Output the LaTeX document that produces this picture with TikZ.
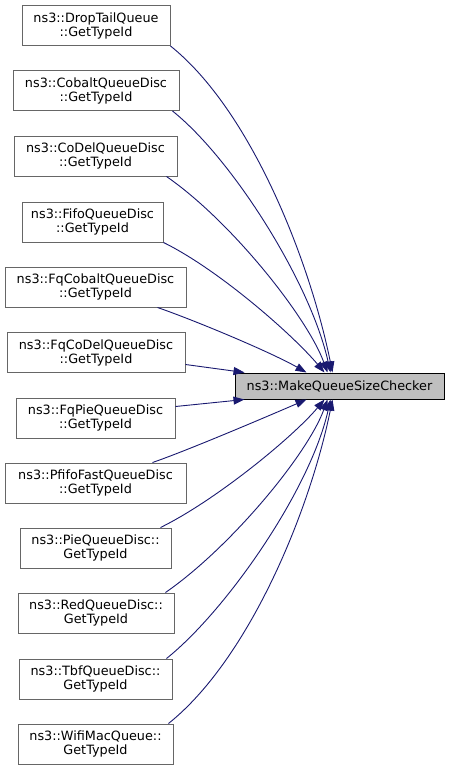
\documentclass[tikz,border=0pt]{standalone}
\usepackage{fontspec}
\setmainfont{DejaVu Sans}
\usetikzlibrary{arrows.meta,calc}
\definecolor{edgeblue}{HTML}{191970}
\definecolor{boxgrey}{HTML}{666666}
\definecolor{tgtfill}{HTML}{BFBFBF}
\tikzset{
  fnbox/.style={draw=boxgrey, line width=1pt, fill=white, minimum height=40pt, inner sep=0pt, align=center,
    font=\fontsize{12.8}{14}\selectfont},
  tgtbox/.style={draw=black, line width=1pt, fill=tgtfill, minimum height=26pt, minimum width=209pt, inner sep=0pt,
    font=\fontsize{12.8}{14}\selectfont},
  calledge/.style={draw=edgeblue, line width=0.9pt, -{Triangle[length=11pt,width=8pt]}, color=edgeblue},
}
\begin{document}
\begin{tikzpicture}[x=1pt,y=-1pt]
\useasboundingbox (0,0) rectangle (449,771);
\node[tgtbox] (tgt) at (339.5,386) {ns3::MakeQueueSizeChecker};
\node[fnbox, minimum width=148pt] (n1) at (96,25.5) {ns3::DropTailQueue\\::GetTypeId};
\node[fnbox, minimum width=166pt] (n2) at (96,90.5) {ns3::CobaltQueueDisc\\::GetTypeId};
\node[fnbox, minimum width=163pt] (n3) at (95.5,156) {ns3::CoDelQueueDisc\\::GetTypeId};
\node[fnbox, minimum width=141pt] (n4) at (92.5,222) {ns3::FifoQueueDisc\\::GetTypeId};
\node[fnbox, minimum width=181pt] (n5) at (95.5,287) {ns3::FqCobaltQueueDisc\\::GetTypeId};
\node[fnbox, minimum width=178pt] (n6) at (96,352.5) {ns3::FqCoDelQueueDisc\\::GetTypeId};
\node[fnbox, minimum width=159pt] (n7) at (95.5,418) {ns3::FqPieQueueDisc\\::GetTypeId};
\node[fnbox, minimum width=181pt] (n8) at (95.5,483) {ns3::PfifoFastQueueDisc\\::GetTypeId};
\node[fnbox, minimum width=151pt] (n9) at (95.5,548) {ns3::PieQueueDisc::\\GetTypeId};
\node[fnbox, minimum width=156pt] (n10) at (96,613) {ns3::RedQueueDisc::\\GetTypeId};
\node[fnbox, minimum width=153pt] (n11) at (95.5,679) {ns3::TbfQueueDisc::\\GetTypeId};
\node[fnbox, minimum width=155pt] (n12) at (95.5,744) {ns3::WifiMacQueue::\\GetTypeId};

\draw[calledge] (n1.south east) .. controls +(80,64) and +(-23,-113) .. ($(tgt.north west)+(98,0)$);
\draw[calledge] ($(n2.south east)+(-7,0)$) .. controls +(60,48) and +(-20,-90) .. ($(tgt.north west)+(96,0)$);
\draw[calledge] ($(n3.south east)+(-11,0)$) .. controls +(65,45) and +(-20,-55) .. ($(tgt.north west)+(93,0)$);
\draw[calledge] (n4.south east) .. controls +(55,27) and +(-32,-38) .. ($(tgt.north west)+(90,0)$);
\draw[calledge] ($(n5.south east)+(-29,0)$) .. controls +(35,12) and +(-37,-21) .. ($(tgt.north west)+(72,0)$);
\draw[calledge] ($(n6.east)+(0,12)$) -- ($(tgt.north west)+(10,0)$);
\draw[calledge] ($(n7.north east)+(0,9)$) -- ($(tgt.south west)+(10,0)$);
\draw[calledge] ($(n8.north east)+(-34,0)$) .. controls +(35,-12) and +(-37,16) .. ($(tgt.south west)+(72,0)$);
\draw[calledge] ($(n9.north east)+(-11,0)$) .. controls +(55,-27) and +(-32,38) .. ($(tgt.south west)+(90,0)$);
\draw[calledge] ($(n10.north east)+(-9,0)$) .. controls +(65,-45) and +(-20,55) .. ($(tgt.south west)+(93,0)$);
\draw[calledge] ($(n11.north east)+(-6,0)$) .. controls +(60,-48) and +(-20,90) .. ($(tgt.south west)+(96,0)$);
\draw[calledge] ($(n12.north east)+(-5,0)$) .. controls +(80,-64) and +(-23,113) .. ($(tgt.south west)+(98,0)$);
\end{tikzpicture}
\end{document}
